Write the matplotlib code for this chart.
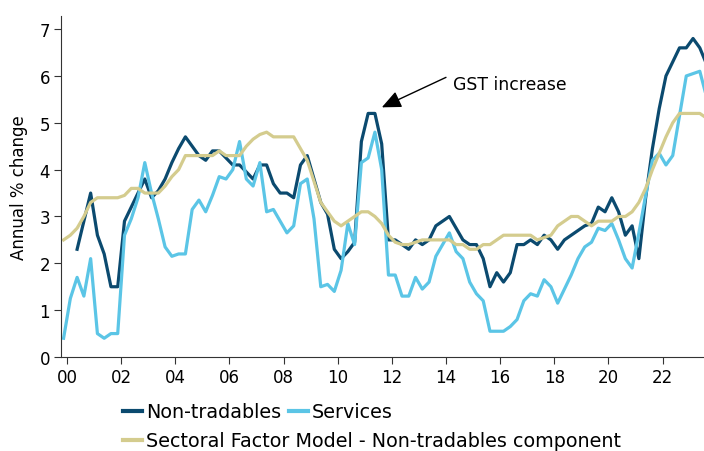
import matplotlib
matplotlib.use("Agg")
import matplotlib.pyplot as plt
import numpy as np

# -----------------------------
# Data: quarterly annual % change, 1999Q4 .. 2023Q3
# -----------------------------
non_tradables = [
    np.nan, np.nan, 2.3, 2.9, 3.5, 2.6, 2.2, 1.5,
    1.5, 2.9, 3.2, 3.5, 3.8, 3.4, 3.55, 3.8,
    4.15, 4.45, 4.7, 4.5, 4.3, 4.2, 4.4, 4.4,
    4.25, 4.1, 4.1, 3.95, 3.8, 4.1, 4.1, 3.7,
    3.5, 3.5, 3.4, 4.1, 4.3, 3.8, 3.3, 3.05,
    2.3, 2.1, 2.25, 2.45, 4.6, 5.2, 5.2, 4.55,
    2.5, 2.5, 2.4, 2.3, 2.5, 2.4, 2.5, 2.8,
    2.9, 3.0, 2.75, 2.5, 2.4, 2.4, 2.1, 1.5,
    1.8, 1.6, 1.8, 2.4, 2.4, 2.5, 2.4, 2.6,
    2.5, 2.3, 2.5, 2.6, 2.7, 2.8, 2.85, 3.2,
    3.1, 3.4, 3.1, 2.6, 2.8, 2.1, 3.4, 4.45,
    5.3, 6.0, 6.3, 6.6, 6.6, 6.8, 6.6, 6.25,
]

services = [
    0.4, 1.25, 1.7, 1.3, 2.1, 0.5, 0.4, 0.5,
    0.5, 2.6, 2.95, 3.4, 4.15, 3.5, 2.95, 2.35,
    2.15, 2.2, 2.2, 3.15, 3.35, 3.1, 3.45, 3.85,
    3.8, 4.0, 4.6, 3.8, 3.65, 4.15, 3.1, 3.15,
    2.9, 2.65, 2.8, 3.7, 3.8, 2.95, 1.5, 1.55,
    1.4, 1.85, 2.85, 2.4, 4.15, 4.25, 4.8, 4.0,
    1.75, 1.75, 1.3, 1.3, 1.7, 1.45, 1.6, 2.15,
    2.4, 2.65, 2.25, 2.1, 1.6, 1.35, 1.2, 0.55,
    0.55, 0.55, 0.65, 0.8, 1.2, 1.35, 1.3, 1.65,
    1.5, 1.15, 1.45, 1.75, 2.1, 2.35, 2.45, 2.75,
    2.7, 2.85, 2.5, 2.1, 1.9, 2.65, 3.45, 4.2,
    4.35, 4.1, 4.3, 5.15, 6.0, 6.05, 6.1, 5.55,
]

sectoral = [
    2.5, 2.6, 2.75, 3.0, 3.3, 3.4, 3.4, 3.4,
    3.4, 3.45, 3.6, 3.6, 3.5, 3.5, 3.5, 3.65,
    3.85, 4.0, 4.3, 4.3, 4.3, 4.3, 4.3, 4.4,
    4.3, 4.3, 4.3, 4.5, 4.65, 4.75, 4.8, 4.7,
    4.7, 4.7, 4.7, 4.45, 4.2, 3.75, 3.3, 3.1,
    2.9, 2.8, 2.9, 3.0, 3.1, 3.1, 3.0, 2.85,
    2.6, 2.45, 2.4, 2.4, 2.45, 2.5, 2.5, 2.5,
    2.5, 2.5, 2.4, 2.4, 2.3, 2.3, 2.4, 2.4,
    2.5, 2.6, 2.6, 2.6, 2.6, 2.6, 2.5, 2.55,
    2.6, 2.8, 2.9, 3.0, 3.0, 2.9, 2.8, 2.9,
    2.9, 2.9, 3.0, 3.0, 3.1, 3.3, 3.6, 4.0,
    4.35, 4.7, 5.0, 5.2, 5.2, 5.2, 5.2, 5.1,
]

# mid-quarter positions, first point is 1999Q4
dates = 1999.875 + 0.25 * np.arange(len(services))

tick_years = list(range(2000, 2023, 2))
tick_labels = [f"{y % 100:02d}" for y in tick_years]

c_nt = "#0b4a6f"
c_sv = "#5bc5e6"
c_sf = "#d4cc8e"

# -----------------------------
# Plot
# -----------------------------
plt.rcParams["font.family"] = "DejaVu Sans"

fig = plt.figure(figsize=(7.04, 4.52), dpi=100)
ax = fig.add_axes([61 / 704, 94 / 452, 643 / 704, 341 / 452])

l1, = ax.plot(dates, non_tradables, color=c_nt, lw=2.3, label="Non-tradables")
l2, = ax.plot(dates, services, color=c_sv, lw=2.3, label="Services")
l3, = ax.plot(dates, sectoral, color=c_sf, lw=2.3,
              label="Sectoral Factor Model - Non-tradables component")

ax.set_xlim(1999.78, 2023.53)
ax.set_ylim(0, 7.28)
ax.set_xticks(tick_years)
ax.set_xticklabels(tick_labels)
ax.set_yticks(range(0, 8))
ax.tick_params(labelsize=12, length=5, color="#333333", pad=3)
ax.set_ylabel("Annual % change", fontsize=12, labelpad=8)

for s in ["top", "right"]:
    ax.spines[s].set_visible(False)
for s in ["left", "bottom"]:
    ax.spines[s].set_color("#333333")

# GST annotation
ax.annotate("", xy=(2011.63, 5.33), xytext=(2014.0, 5.97),
            arrowprops=dict(arrowstyle="-|>,head_length=0.9,head_width=0.4",
                            color="black", lw=1, mutation_scale=13,
                            shrinkA=0, shrinkB=0))
ax.text(2014.26, 5.82, "GST increase", fontsize=12.4, va="center", ha="left")

# -----------------------------
# Legend: two rows below the chart
# -----------------------------
leg_kw = dict(frameon=False, fontsize=13.8, handlelength=1.0, handletextpad=0.2,
              columnspacing=0.4, borderaxespad=0, borderpad=0)
leg1 = fig.legend(handles=[l1, l2], ncol=2, loc="center left",
                  bbox_to_anchor=(123 / 704, 1 - 413 / 452), **leg_kw)
leg2 = fig.legend(handles=[l3], loc="center left",
                  bbox_to_anchor=(123 / 704, 1 - 442 / 452), **leg_kw)
for leg in (leg1, leg2):
    for h in leg.legend_handles:
        h.set_linewidth(3)

fig.savefig("out.png", dpi=100)
